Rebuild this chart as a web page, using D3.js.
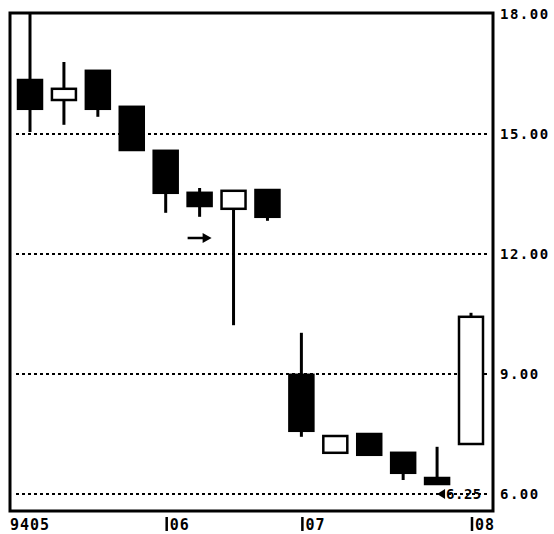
<!DOCTYPE html>
<html>
<head>
<meta charset="utf-8">
<script src="https://cdn.jsdelivr.net/npm/d3@7"></script>
<style>
  body { margin: 0; background: #fff; }
  text { font-family: "DejaVu Sans Mono", monospace; font-weight: bold; fill: #000; }
</style>
</head>
<body>
<script>
// weekly candles, 1994 (Fridays)
var weeks = ['1994-05-06', '1994-05-13', '1994-05-20', '1994-05-27', '1994-06-03', '1994-06-10', '1994-06-17',
  '1994-06-24', '1994-07-01', '1994-07-08', '1994-07-15', '1994-07-22', '1994-07-29', '1994-08-05']
var openArr  = [16.35, 15.85, 16.58, 15.68, 14.58, 13.53, 13.13, 13.60, 8.98, 7.03, 7.50, 7.03, 6.40, 7.25]
var highArr  = [18.00, 16.80, 16.58, 15.68, 14.58, 13.65, 13.58, 13.60, 10.03, 7.45, 7.50, 7.05, 7.18, 10.53]
var lowArr   = [15.05, 15.23, 15.43, 14.60, 13.03, 12.93, 10.22, 12.83, 7.43, 7.03, 6.98, 6.35, 6.25, 7.25]
var closeArr = [15.63, 16.13, 15.63, 14.60, 13.53, 13.20, 13.58, 12.93, 7.58, 7.45, 6.98, 6.53, 6.25, 10.43]

var xTickWeeks = ['1994-05-06', '1994-06-03', '1994-07-01', '1994-08-05']
var xTickLabels = ['9405', '06', '07', '08']
var yTicks = [18, 15, 12, 9, 6]
var gridTicks = [15, 12, 9, 6]
var lowNote = 6.25

var W = 554, H = 534
var frame = {left: 10, right: 493, top: 13, bottom: 511}

var x = d3.scalePoint().domain(weeks).range([30, 471])
var y = d3.scaleLinear().domain([5.575, 18]).range([frame.bottom, 14])

var svg = d3.select('body').append('svg').attr('width', W).attr('height', H)

// dotted grid
svg.append('g').selectAll('line').data(gridTicks).join('line')
  .attr('x1', frame.left + 6).attr('x2', frame.right - 3)
  .attr('y1', d => y(d)).attr('y2', d => y(d))
  .attr('stroke', '#000').attr('stroke-width', 2).attr('stroke-dasharray', '3,3')

// candles
var idx = d3.range(weeks.length)
var cw = 24
var candles = svg.append('g').selectAll('g').data(idx).join('g')
candles.append('line')
  .attr('x1', i => x(weeks[i])).attr('x2', i => x(weeks[i]))
  .attr('y1', i => y(highArr[i])).attr('y2', i => y(lowArr[i]))
  .attr('stroke', '#000').attr('stroke-width', 3)
candles.append('rect')
  .attr('x', i => x(weeks[i]) - cw / 2)
  .attr('width', cw)
  .attr('y', i => y(Math.max(openArr[i], closeArr[i])))
  .attr('height', i => Math.max(3, Math.abs(y(openArr[i]) - y(closeArr[i]))))
  .attr('fill', i => closeArr[i] > openArr[i] ? '#fff' : '#000')
  .attr('stroke', '#000').attr('stroke-width', 2.5)

// frame
svg.append('path')
  .attr('d', `M${frame.left},${frame.top}H${frame.right}V${frame.bottom}H${frame.left}Z`)
  .attr('fill', 'none').attr('stroke', '#000').attr('stroke-width', 3)

// right axis labels
var yAxis = d3.axisRight(y).tickValues(yTicks).tickSize(0).tickPadding(7).tickFormat(d3.format('.2f'))
var gy = svg.append('g').attr('transform', `translate(${frame.right},0)`).call(yAxis)
gy.select('.domain').remove()
gy.selectAll('text').style('font-size', '14px').attr('letter-spacing', 1.5)

// bottom axis labels (tick drawn as a bar in front of the month)
var bx = svg.append('g')
bx.selectAll('line').data(xTickWeeks.slice(1)).join('line')
  .attr('x1', d => x(d) + 1).attr('x2', d => x(d) + 1)
  .attr('y1', frame.bottom + 6).attr('y2', frame.bottom + 20)
  .attr('stroke', '#000').attr('stroke-width', 2.5)
bx.selectAll('text').data(xTickWeeks).join('text')
  .attr('x', (d, i) => i === 0 ? x(d) : x(d) + 4)
  .attr('y', frame.bottom + 19)
  .attr('text-anchor', (d, i) => i === 0 ? 'middle' : 'start')
  .style('font-size', '15px').attr('letter-spacing', 1)
  .text((d, i) => xTickLabels[i])

// annotations
var lastX = x(weeks[weeks.length - 2])
svg.append('path')
  .attr('d', `M${lastX},${y(6.0)} l8,-5 v10 Z`)
  .attr('fill', '#000')
svg.append('text')
  .attr('x', lastX + 9).attr('y', y(6.0) + 5)
  .style('font-size', '14px').attr('letter-spacing', 0.5)
  .text(d3.format('.2f')(lowNote))

var ax = x(weeks[5])
svg.append('line')
  .attr('x1', ax - 12).attr('x2', ax + 4)
  .attr('y1', y(12.4)).attr('y2', y(12.4))
  .attr('stroke', '#000').attr('stroke-width', 2.5)
svg.append('path')
  .attr('d', `M${ax + 12},${y(12.4)} l-9,-5 v10 Z`)
  .attr('fill', '#000')
</script>
</body>
</html>
